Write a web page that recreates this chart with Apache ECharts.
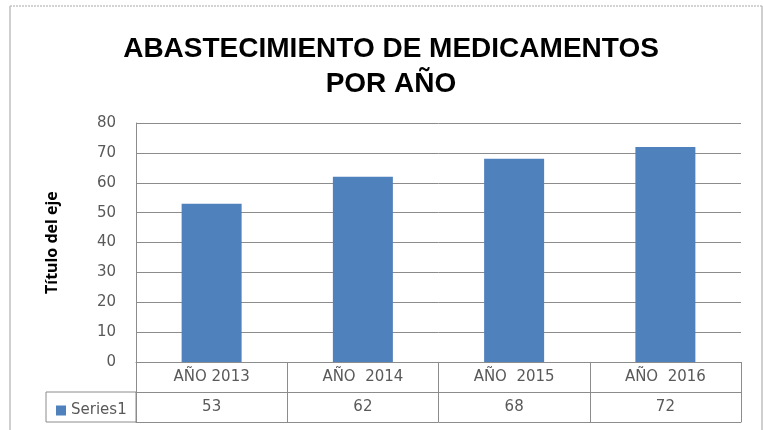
<!DOCTYPE html>
<html>
<head>
<meta charset="utf-8">
<script src="https://cdn.jsdelivr.net/npm/echarts@6/dist/echarts.min.js"></script>
<style>
  html, body { margin: 0; padding: 0; background: #fff; }
  #main { width: 763px; height: 430px; }
</style>
</head>
<body>
<div id="main"></div>
<script>
const categories = ["AÑO 2013", "AÑO  2014", "AÑO  2015", "AÑO  2016"];
const values = [53, 62, 68, 72];
const seriesName = "Series1";
const yTicks = { min: 0, max: 80, interval: 10 };

const gridLeft = 136;
const gridRight = 22;
const gridTop = 123;
const gridBottom = 68;
const rowH = 30;
const lineColor = "#8c8c8c";
const textColor = "#595959";
const font = "DejaVu Sans";

const myChart = echarts.init(document.getElementById("main"));
const option = {
  backgroundColor: "#fff",
  animation: false,
  title: {
    text: "ABASTECIMIENTO DE MEDICAMENTOS\nPOR AÑO",
    left: 386,
    textAlign: "center",
    top: 27,
    textStyle: {
      fontFamily: "Liberation Sans",
      fontWeight: "bold",
      fontSize: 28,
      lineHeight: 35,
      color: "#000",
    },
  },
  legend: {
    data: [seriesName],
    left: 51,
    top: 398,
    icon: "rect",
    itemWidth: 10,
    itemHeight: 10,
    itemGap: 4,
    textStyle: { fontFamily: font, fontSize: 15, color: textColor },
  },
  grid: { left: gridLeft, right: gridRight, top: gridTop, bottom: gridBottom },
  xAxis: [
    {
      type: "category",
      data: categories,
      position: "bottom",
      axisLine: { lineStyle: { color: lineColor } },
      axisTick: { show: true, alignWithLabel: false, length: rowH * 2, lineStyle: { color: lineColor } },
      axisLabel: { margin: 8, fontFamily: font, fontSize: 15, color: textColor },
    },
    {
      type: "category",
      data: values.map(String),
      position: "bottom",
      offset: rowH,
      axisLine: { lineStyle: { color: lineColor } },
      axisTick: { show: false },
      axisLabel: { margin: 8, fontFamily: font, fontSize: 15, color: textColor },
    },
    {
      type: "category",
      data: categories,
      position: "bottom",
      offset: rowH * 2,
      axisLine: { lineStyle: { color: lineColor } },
      axisTick: { show: false },
      axisLabel: { show: false },
    },
  ],
  yAxis: {
    type: "value",
    min: yTicks.min,
    max: yTicks.max,
    interval: yTicks.interval,
    name: "Título del eje",
    nameLocation: "middle",
    nameRotate: 90,
    nameGap: 76,
    nameTextStyle: { fontFamily: "Noto Sans", fontWeight: "bold", fontSize: 16, color: "#000" },
    axisLine: { show: true, lineStyle: { color: lineColor } },
    axisTick: { show: false },
    axisLabel: { margin: 20, fontFamily: font, fontSize: 15, color: textColor },
    splitLine: { lineStyle: { color: lineColor } },
  },
  series: [
    {
      name: seriesName,
      type: "bar",
      xAxisIndex: 0,
      data: values,
      barWidth: 60,
      itemStyle: { color: "#4f81bd" },
    },
  ],
  graphic: [
    // outer chart frame
    { type: "line", shape: { x1: 10, y1: 6, x2: 762, y2: 6 }, style: { stroke: "#a6a6a6", lineWidth: 1, lineDash: [2, 1] } },
    { type: "line", shape: { x1: 10, y1: 6, x2: 10, y2: 430 }, style: { stroke: "#bfbfbf", lineWidth: 1.5 } },
    { type: "line", shape: { x1: 762, y1: 6, x2: 762, y2: 430 }, style: { stroke: "#bfbfbf", lineWidth: 1.5 } },
    // legend cell of the data table
    {
      type: "rect",
      shape: { x: 46, y: 430 - gridBottom + rowH, width: gridLeft - 46, height: rowH },
      style: { fill: "none", stroke: lineColor, lineWidth: 1 },
      z: -1,
    },
  ],
};
myChart.setOption(option);
</script>
</body>
</html>
